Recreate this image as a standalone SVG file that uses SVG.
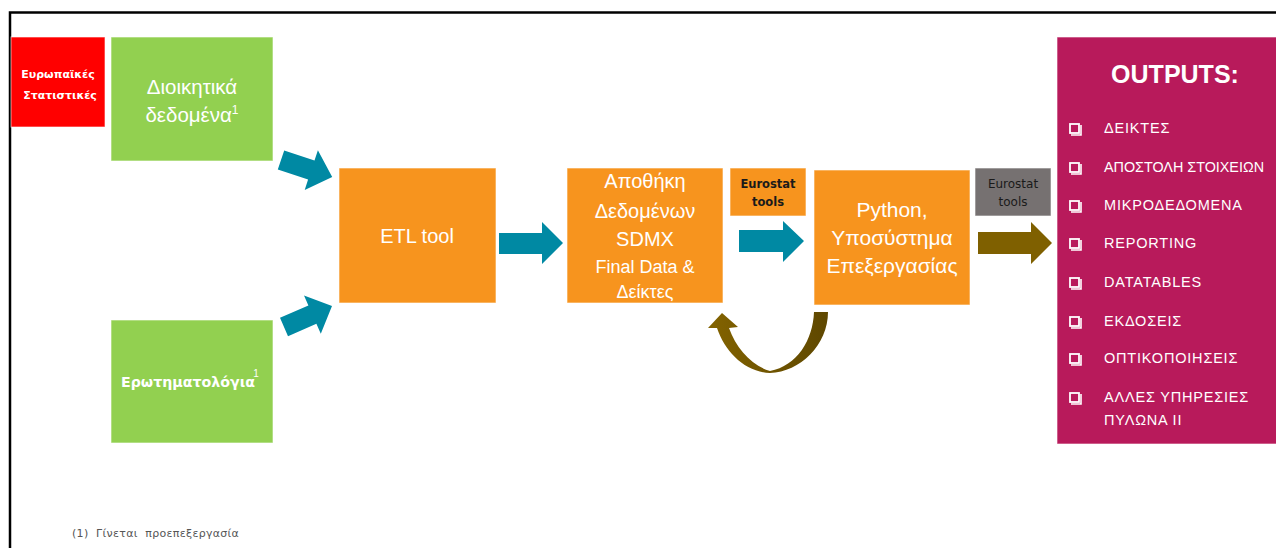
<svg xmlns="http://www.w3.org/2000/svg" width="1276" height="548" viewBox="0 0 1276 548">
<defs>
<style>
.box{stroke:#ffffff;stroke-opacity:0.6;stroke-width:1}
.orange{fill:#F7941E}
.green{fill:#92D050}
.wt{fill:#ffffff;font-family:"Liberation Sans",Arial,sans-serif;text-anchor:middle}
.dj{font-family:"DejaVu Sans",Verdana,sans-serif}
.teal{fill:#0089A3}
.li{fill:#ffffff;font-family:"Liberation Sans",Arial,sans-serif;font-size:14.5px;letter-spacing:0.8px}
.cb{fill:none;stroke:#ffffff;stroke-width:1.8}
</style>
<linearGradient id="ug" x1="0" y1="0" x2="1" y2="0">
<stop offset="0" stop-color="#836300"/>
<stop offset="1" stop-color="#5E4700"/>
</linearGradient>
</defs>
<rect x="0" y="0" width="1276" height="548" fill="#ffffff"/>
<path d="M10,548 L10,12.5 L1276,12.5" fill="none" stroke="#000000" stroke-width="2.5"/>

<g id="node-eurostats">
<rect class="box" x="11" y="37" width="94" height="90" fill="#FF0000"/>
<text class="wt dj" font-size="11" font-weight="bold" x="58" y="78">Ευρωπαϊκές</text>
<text class="wt dj" font-size="11" font-weight="bold" x="60" y="99">Στατιστικές</text>
</g>

<g id="node-admin">
<rect class="box green" x="111" y="37" width="162" height="124"/>
<text class="wt" font-size="20.5" x="192" y="94">Διοικητικά</text>
<text class="wt" font-size="20.5" x="192" y="122">δεδομένα<tspan font-size="12" dy="-8">1</tspan></text>
</g>

<g id="node-quest">
<rect class="box green" x="111" y="320" width="162" height="123"/>
<text class="wt dj" font-size="14.2" font-weight="bold" x="188" y="387">Ερωτηματολόγια</text>
<text class="wt" font-size="10" x="256" y="377">1</text>
</g>

<g id="node-etl">
<rect class="box orange" x="339" y="168" width="157" height="135"/>
<text class="wt" font-size="20" x="417" y="243">ETL tool</text>
</g>

<g id="node-store">
<rect class="box orange" x="567" y="168" width="156" height="135"/>
<text class="wt" font-size="20" x="645" y="188">Αποθήκη</text>
<text class="wt" font-size="20" x="645" y="218">Δεδομένων</text>
<text class="wt" font-size="20" x="645" y="246">SDMX</text>
<text class="wt" font-size="18" x="645" y="273">Final Data &amp;</text>
<text class="wt" font-size="18" x="645" y="298">Δείκτες</text>
</g>

<g id="node-eurostat1">
<rect class="box orange" x="730" y="168" width="76" height="48"/>
<text class="dj" font-size="11.5" font-weight="bold" fill="#1a1a1a" text-anchor="middle" x="768" y="188">Eurostat</text>
<text class="dj" font-size="11.5" font-weight="bold" fill="#1a1a1a" text-anchor="middle" x="768" y="206">tools</text>
</g>

<g id="node-python">
<rect class="box orange" x="814" y="170" width="156" height="135"/>
<text class="wt" font-size="21" x="892" y="217">Python,</text>
<text class="wt" font-size="21" x="892" y="245">Υποσύστημα</text>
<text class="wt" font-size="21" x="892" y="273">Επεξεργασίας</text>
</g>

<g id="node-eurostat2">
<rect class="box" x="975" y="168" width="76" height="48" fill="#767171"/>
<text class="dj" font-size="12" fill="#1a1a1a" text-anchor="middle" x="1013" y="188">Eurostat</text>
<text class="dj" font-size="12" fill="#1a1a1a" text-anchor="middle" x="1013" y="206">tools</text>
</g>

<g id="node-outputs">
<rect class="box" x="1057" y="37" width="240" height="407" fill="#B81A5B"/>
<text x="1175" y="83" fill="#ffffff" font-family="Liberation Sans, Arial, sans-serif" font-size="25" font-weight="bold" text-anchor="middle">OUTPUTS:</text>
<g id="checkboxes">
<rect class="cb" x="1070" y="124" width="9" height="9"/><path d="M1081,125 V135 H1071" fill="none" stroke="#ffffff" stroke-width="1.6"/>
<rect class="cb" x="1070" y="163" width="9" height="9"/><path d="M1081,164 V174 H1071" fill="none" stroke="#ffffff" stroke-width="1.6"/>
<rect class="cb" x="1070" y="201" width="9" height="9"/><path d="M1081,202 V212 H1071" fill="none" stroke="#ffffff" stroke-width="1.6"/>
<rect class="cb" x="1070" y="239" width="9" height="9"/><path d="M1081,240 V250 H1071" fill="none" stroke="#ffffff" stroke-width="1.6"/>
<rect class="cb" x="1070" y="278" width="9" height="9"/><path d="M1081,279 V289 H1071" fill="none" stroke="#ffffff" stroke-width="1.6"/>
<rect class="cb" x="1070" y="317" width="9" height="9"/><path d="M1081,318 V328 H1071" fill="none" stroke="#ffffff" stroke-width="1.6"/>
<rect class="cb" x="1070" y="354" width="9" height="9"/><path d="M1081,355 V365 H1071" fill="none" stroke="#ffffff" stroke-width="1.6"/>
<rect class="cb" x="1070" y="393" width="9" height="9"/><path d="M1081,394 V404 H1071" fill="none" stroke="#ffffff" stroke-width="1.6"/>
</g>
<text class="li" x="1104" y="133">ΔΕΙΚΤΕΣ</text>
<text x="1104" y="172" fill="#ffffff" font-family="Liberation Sans, Arial, sans-serif" font-size="14.5" textLength="160" lengthAdjust="spacingAndGlyphs">ΑΠΟΣΤΟΛΗ ΣΤΟΙΧΕΙΩΝ</text>
<text class="li" x="1104" y="210">ΜΙΚΡΟΔΕΔΟΜΕΝΑ</text>
<text class="li" x="1104" y="248">REPORTING</text>
<text class="li" x="1104" y="287">DATATABLES</text>
<text class="li" x="1104" y="326">ΕΚΔΟΣΕΙΣ</text>
<text class="li" x="1104" y="363">ΟΠΤΙΚΟΠΟΙΗΣΕΙΣ</text>
<text class="li" x="1104" y="402">ΑΛΛΕΣ ΥΠΗΡΕΣΙΕΣ</text>
<text class="li" x="1104" y="425">ΠΥΛΩΝΑ ΙΙ</text>
</g>

<g id="connectors">
<polygon class="teal" points="284.2,150.5 314.5,160.6 317.9,150.2 332.2,177.1 304.7,190.0 308.1,179.6 277.8,169.5"/>
<polygon class="teal" points="280,317.8 308.4,305.4 304,295.4 332,306 320.8,333.8 316.4,323.8 288,336.2"/>
<polygon class="teal" points="499,233 542,233 542,222 563,243 542,264 542,254 499,254"/>
<polygon class="teal" points="739,230 783,230 783,221 804,241 783,262 783,252 739,252"/>
<polygon fill="#7F6000" points="978,232 1031,232 1031,222 1052,243 1031,264 1031,254 978,254"/>
<path fill="url(#ug)" d="M828,312 L814,312 C813,340 797,366 770,371 C752,366 736,348 729,328 L738,327 L722,313 L708,328 L717,328 C725,352 745,372 770,373 C800,372 828,345 828,312 Z"/>
</g>

<text x="72" y="537" fill="#555555" font-family="DejaVu Sans, Verdana, sans-serif" font-size="11" letter-spacing="0.3" xml:space="preserve">(1)  Γίνεται  προεπεξεργασία</text>
</svg>
